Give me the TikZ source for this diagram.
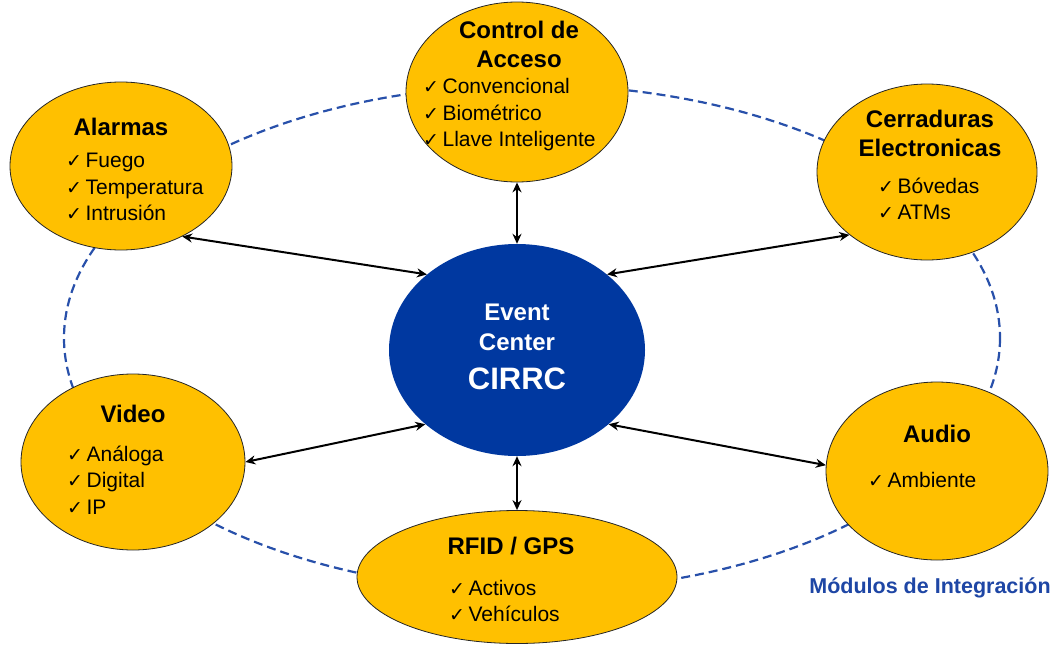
\documentclass[tikz,border=0pt]{standalone}
\usepackage{fontspec}
\setmainfont{Liberation Sans}
\newfontfamily\chkfont{DejaVu Sans}
\usetikzlibrary{shapes.geometric,arrows.meta}
\definecolor{gold}{RGB}{255,192,0}
\definecolor{navy}{RGB}{0,56,160}
\definecolor{dashblue}{RGB}{40,80,170}
\definecolor{lblblue}{RGB}{30,70,165}
\newcommand{\ck}{{\chkfont\fontsize{19}{19}\selectfont ✓}\,}
\begin{document}
\begin{tikzpicture}[x=1pt,y=-1pt,
  mod/.style={ellipse, draw=black!85, line width=0.8pt, fill=gold, inner sep=0pt},
  hub/.style={ellipse, fill=navy, inner sep=0pt},
  ttl/.style={font=\fontsize{24}{29}\selectfont\bfseries, align=center, inner sep=0pt},
  itm/.style={font=\fontsize{21}{26.5}\selectfont, align=left, anchor=west, inner sep=0pt},
  link/.style={line width=2pt, {Stealth[length=10pt,width=9pt]}-{Stealth[length=10pt,width=9pt]}},
  ring/.style={draw=dashblue, line width=2.2pt, dash pattern=on 9pt off 5pt}]
\useasboundingbox[fill=white] (0,0) rectangle (1060,645);
\draw[ring] (532,338) ellipse [x radius=468, y radius=253];

\node[mod, minimum width=222pt, minimum height=168pt] (alar) at (121,166) {};
\node[mod, minimum width=222pt, minimum height=180pt] (ctrl) at (517,92) {};
\node[mod, minimum width=220pt, minimum height=176pt] (cerr) at (927,172) {};
\node[mod, minimum width=224pt, minimum height=176pt] (vid) at (133,462) {};
\node[mod, minimum width=222pt, minimum height=178pt] (aud) at (937,471) {};
\node[mod, minimum width=320pt, minimum height=133pt] (rfid) at (517,577) {};
\node[hub, minimum width=256pt, minimum height=212pt] (hubn) at (517,350) {};

% connectors
\draw[link] (alar.-49) -- (hubn.140);
\draw[link] (ctrl.-90) -- (hubn.90);
\draw[link] (cerr.219) -- (hubn.40);
\draw[link] (vid.0) -- (hubn.219);
\draw[link] (aud.177) -- (hubn.-39);
\draw[link] (rfid.90) -- (hubn.-90);

% texts
\node[ttl] (t1) at (121,127) {Alarmas};
\node[itm] (i1) at (66,187) {\ck Fuego\\\ck Temperatura\\\ck Intrusión};

\node[ttl] (t2) at (519,44) {Control de\\Acceso};
\node[itm] (i2) at (423,115) {\ck Convencional\\\ck Biométrico\\\ck Llave Inteligente};

\node[ttl] (t3) at (930,133) {Cerraduras\\Electronicas};
\node[itm] (i3) at (878,199) {\ck Bóvedas\\\ck ATMs};

\node[ttl] (t4) at (133,414) {Video};
\node[itm] (i4) at (67,480) {\ck Análoga\\\ck Digital\\\ck IP};

\node[ttl] (t5) at (937,434) {Audio};
\node[itm] (i5) at (868,480) {\ck Ambiente};

\node[ttl] (t6) at (511,546) {RFID / GPS};
\node[itm] (i6) at (449,601) {\ck Activos\\\ck Vehículos};

\node[font=\fontsize{24}{30}\selectfont\bfseries, text=white, align=center, inner sep=0pt] (t7) at (517,327) {Event\\Center};
\node[font=\fontsize{31}{31}\selectfont\bfseries, text=white, inner sep=0pt] (t8) at (517,379) {CIRRC};

\node[font=\fontsize{21.5}{22}\selectfont\bfseries, text=lblblue, inner sep=0pt] (lbl) at (930,588) {Módulos de Integración};
\end{tikzpicture}
\end{document}
